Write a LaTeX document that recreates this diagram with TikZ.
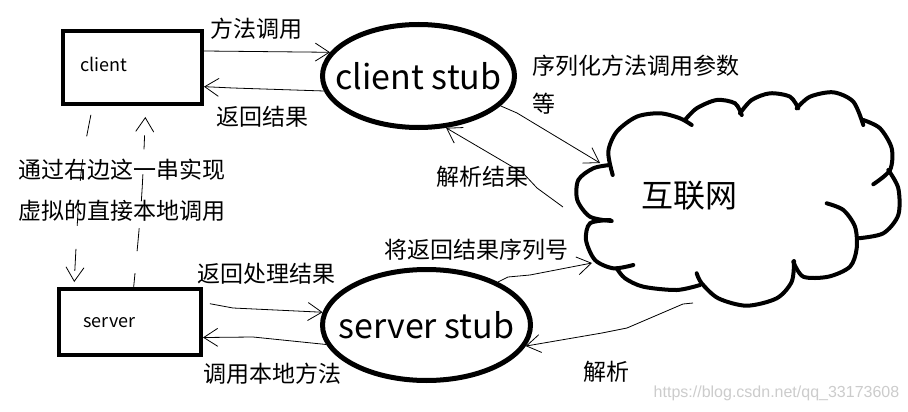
\documentclass[tikz,border=0pt]{standalone}
\usepackage{fontspec}
\newfontfamily\cjk{Noto Sans CJK SC}
\newfontfamily\wmfont{Liberation Sans}
\usetikzlibrary{arrows.meta,shapes.geometric}
\begin{document}
\begin{tikzpicture}[x=1pt,y=-1pt,
  box/.style={draw, line width=4pt, inner sep=0pt},
  stub/.style={draw, ellipse, line width=5pt, inner sep=0pt},
  big/.style={font=\cjk\fontsize{34}{34}\selectfont},
  small/.style={font=\cjk\fontsize{18}{18}\selectfont},
  lab/.style={font=\cjk\fontsize{23}{23}\selectfont, inner sep=0pt},
  arr/.style={line width=0.8pt, -{Straight Barb[length=14pt,width=18pt]}},
  cloudline/.style={line width=4pt, line cap=round},
]
\useasboundingbox (0,0) rectangle (908,412);
\fill[white] (0,0) rectangle (908,412);

% boxes
\node[box, minimum width=139pt, minimum height=73pt,
  label={[small, xshift=-28.5pt, yshift=3.5pt]center:client}] (client) at (132.5,67.5) {};
\node[box, minimum width=142pt, minimum height=66pt,
  label={[small, xshift=-20.5pt, yshift=-1pt]center:server}] (server) at (130,322) {};

% stubs
\node[stub, minimum width=192pt, minimum height=103pt,
  label={[big]center:client stub}] (cstub) at (418.5,76) {};
\node[stub, minimum width=208pt, minimum height=111pt,
  label={[big]center:server stub}] (sstub) at (426.5,325) {};

% cloud
\node[font=\cjk\fontsize{32}{32}\selectfont, inner sep=0pt] (net) at (689.5,196) {互联网};
\draw[cloudline] plot[smooth] coordinates {(612.7,175) (608.3,151.7) (616.7,131.7) (636.7,116.7) (660,113.3) (680,118.3) (691.7,125)};
\draw[cloudline] plot[smooth] coordinates {(685,120) (696.7,108.3) (716.7,100) (735,103.3) (741.7,115)};
\draw[cloudline] plot[smooth] coordinates {(740,113.3) (751.7,100) (770,93.3) (790,96.7) (798.3,108.3)};
\draw[cloudline] plot[smooth] coordinates {(796.7,108.3) (810,96.7) (833.3,92.3) (853.3,101.7) (863.3,125)};
\draw[cloudline] plot[smooth] coordinates {(863.3,120) (880,128.3) (891.7,148.3) (890,170) (873.3,184.3)};
\draw[cloudline] plot[smooth] coordinates {(888.3,170) (898.3,188.3) (898.3,215) (883.3,233.3) (858.3,238.3)};
\draw[cloudline] plot[smooth] coordinates {(826.7,203.3) (843.3,210) (855,226.7) (856.7,248.3) (850,266.7) (828.3,276.7) (803.3,276.7) (793.3,261.7)};
\draw[cloudline] plot[smooth] coordinates {(794,261) (791.7,281.7) (776.7,298.3) (746.7,305.7) (718.3,298.3) (701.7,283.3) (696.7,273.3)};
\draw[cloudline] plot[smooth] coordinates {(700,285) (676.7,290) (643.3,286.7) (625,278.3) (616.7,268.3)};
\draw[cloudline] plot[smooth] coordinates {(633.3,265) (613.3,268.3) (595,260) (586,240) (590,223.3) (610,220)};
\draw[cloudline] plot[smooth] coordinates {(611.7,221) (590,216.7) (577.3,200) (578.3,180) (593.3,168.3) (610,165)};

\coordinate (netA) at (600,163);
\coordinate (netB) at (563,207);
\coordinate (netC) at (592,263);
\coordinate (netD) at (693,303);

% client <-> client stub
\draw[arr] (client.13) -- (cstub.165);
\draw[arr] (cstub.189) -- (233,88) -- (client.-15);
\node[lab] (l1) at (256,29) {方法调用};
\node[lab] (l2) at (262,117) {返回结果};

% server <-> server stub
\draw[arr, shorten <=7pt] (server.15) -- (233,308) -- (sstub.173);
\draw[arr] (sstub.191) -- (253,337) -- (server.-12);
\node[lab] (l3) at (266.5,274) {返回处理结果};
\node[lab] (l4) at (272,374) {调用本地方法};

% stubs <-> net
\draw[arr] (cstub.-20) -- (517,113) -- (netA);
\draw[arr] (netB) -- (537,188) -- (523,173) -- (cstub.-62);
\draw[arr] (sstub.31) -- (508,277) -- (530,275) -- (netC);
\draw[arr] (netD) -- (683,304) -- (627,328) -- (602,333) -- (sstub.-12);
\node[lab, anchor=west] (l5) at (532,65.5) {序列化方法调用参数};
\node[lab, anchor=west] (l6) at (532,104) {等};
\node[lab] (l7) at (482,177) {解析结果};
\node[lab] (l8) at (476.5,250) {将返回结果序列号};
\node[lab] (l9) at (606.5,372) {解析};

% virtual direct call
\draw[arr, dash pattern=on 22pt off 23pt, shorten <=9pt, shorten >=5pt]
  (client.224) .. controls (80,170) .. (server.148);
\draw[arr, dash pattern=on 14pt off 22pt on 23pt off 27pt on 27pt off 25pt, shorten >=11pt]
  (server.84) .. controls (142,200) .. (client.-71);
\node[lab, anchor=west] (l10) at (18,170) {通过右边这一串实现};
\node[lab, anchor=west] (l11) at (18,211) {虚拟的直接本地调用};

% watermark
\node[font=\wmfont\fontsize{16}{16}\selectfont, text=black!20, inner sep=0pt] (wm) at (776.5,393.5) {https://blog.csdn.net/qq\_33173608};
\end{tikzpicture}
\end{document}
